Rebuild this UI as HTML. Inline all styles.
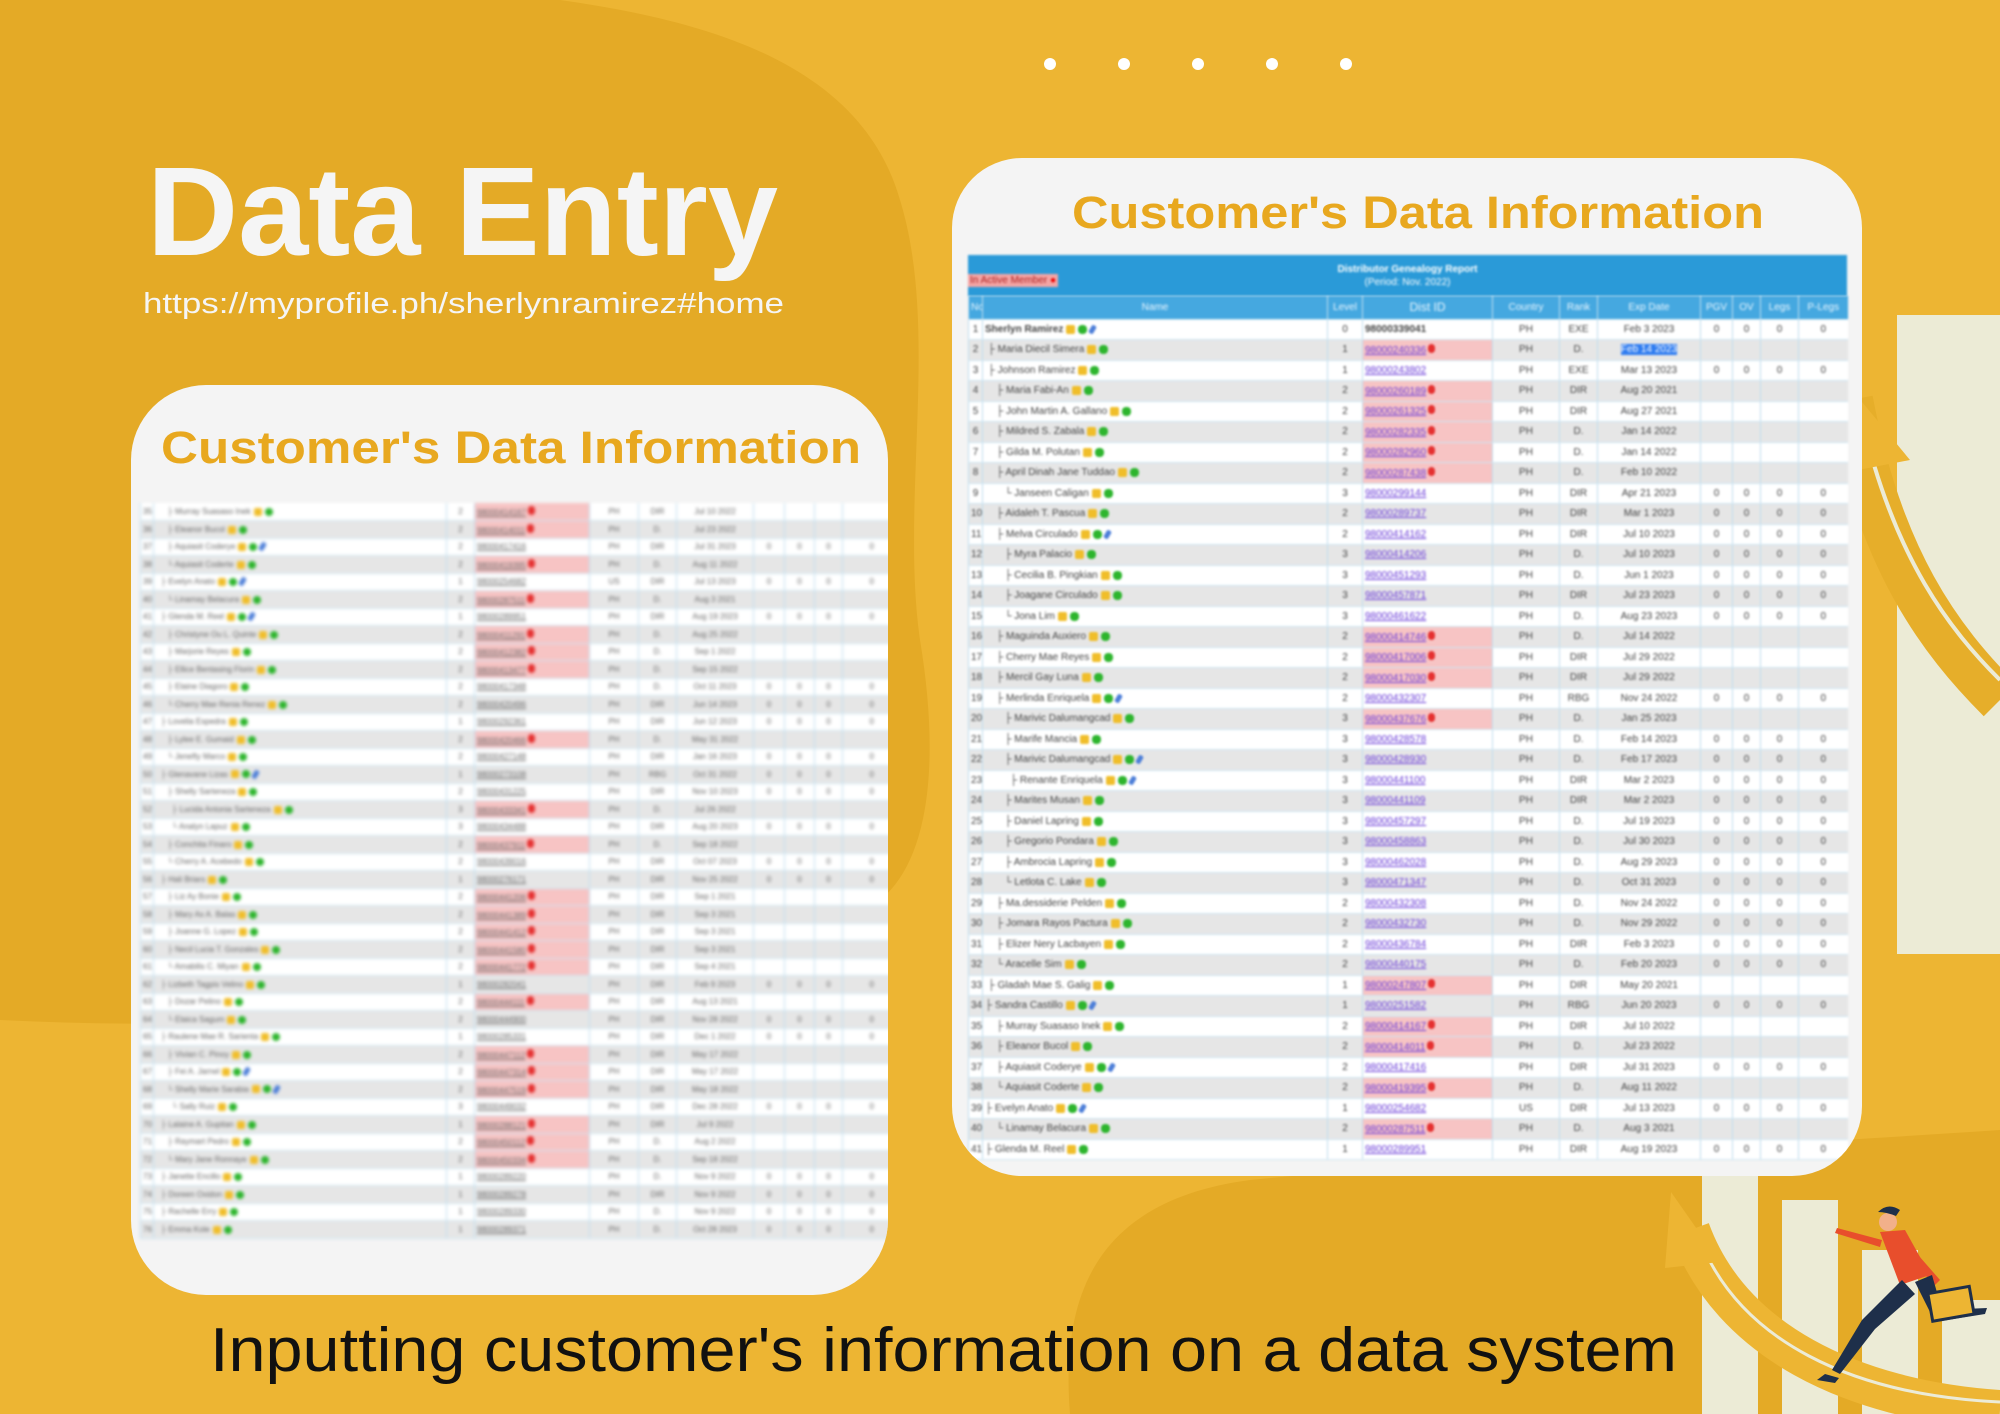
<!DOCTYPE html>
<html><head><meta charset="utf-8">
<style>
*{margin:0;padding:0;box-sizing:border-box}
html,body{width:2000px;height:1414px;overflow:hidden;background:#EDB533;font-family:"Liberation Sans",sans-serif}
#bg{position:absolute;left:0;top:0}
.card{position:absolute;background:#F4F4F4;overflow:hidden}
table{border-collapse:collapse;table-layout:fixed;position:absolute;font-size:10px;color:#444}
td{border-left:1px solid #BFDDEE;border-bottom:1px solid #CFE6F2;height:20.5px;white-space:nowrap;overflow:hidden;text-align:center;padding:0 2px}
tr:nth-child(even) td{background:#E6E6E6}
tr:nth-child(odd) td{background:#FFFFFF}
#rt tr:nth-child(even) td{background:#FFFFFF}
#rt tr:nth-child(odd) td{background:#E6E6E6}
td.nm{text-align:left}
td.p{text-align:left;color:#6A3BD8;text-decoration:underline}
tr td.pk,#rt tr td.pk{background:#F7C4C4}
td.pk::after{content:"";display:inline-block;width:7px;height:9px;border-radius:4px;background:#E53030;margin-left:2px}
i.y,i.g,i.c{display:inline-block;width:9px;height:9px;margin-left:3px;vertical-align:middle;border-radius:2px}
i.y{background:#F0BE2A}i.g{background:#2DB52D;border-radius:4px}i.c{background:#4C7ED8;width:5px;transform:rotate(30deg)}
.blur{filter:blur(1.1px)}
.blur2{filter:blur(1.6px)}
#lt td{height:17.5px;font-size:8px;color:#666}
#lt i.y,#lt i.g{width:8px;height:8px}
</style></head><body>
<svg id="bg" width="2000" height="1414">
<path d="M0 0 H560 C700 20 860 60 900 200 C940 330 900 500 920 640 C940 760 930 860 880 900 C820 950 700 960 600 980 C400 1020 200 1030 0 1020 Z" fill="#E4AA26"/>
<path d="M1070 1414 C1060 1290 1100 1200 1250 1180 C1450 1160 1700 1150 2000 1130 V1414 Z" fill="#E4AA26"/>
<circle cx="1050" cy="64" r="6" fill="#fff"/><circle cx="1124" cy="64" r="6" fill="#fff"/><circle cx="1198" cy="64" r="6" fill="#fff"/><circle cx="1272" cy="64" r="6" fill="#fff"/><circle cx="1346" cy="64" r="6" fill="#fff"/>
<rect x="1897" y="315" width="103" height="639" fill="#ECEBD6"/>
<path d="M1850 400 C1880 560 1940 640 2000 700" stroke="#E6AE2A" stroke-width="46" fill="none"/>
<path d="M1862 420 C1895 560 1950 630 2000 680" stroke="#ECEBD6" stroke-width="4" fill="none"/>
<polygon points="1848,385 1910,460 1858,470" fill="#EDB533"/>
<rect x="1702" y="1160" width="56" height="254" fill="#ECEBD6"/>
<rect x="1782" y="1200" width="56" height="214" fill="#ECEBD6"/>
<rect x="1862" y="1250" width="56" height="164" fill="#ECEBD6"/>
<rect x="1942" y="1300" width="58" height="114" fill="#ECEBD6"/>
<path d="M1690 1230 C1730 1340 1850 1400 2000 1410" stroke="#EDB533" stroke-width="40" fill="none"/>
<path d="M1700 1240 C1740 1340 1850 1395 2000 1402" stroke="#ECEBD6" stroke-width="3" fill="none"/>
<polygon points="1671,1192 1720,1262 1665,1268" fill="#EDB533"/>
<g>
<circle cx="1888" cy="1222" r="9" fill="#F2B08A"/>
<path d="M1878 1212 q10 -10 22 -2 l-4 6 q-10 -4 -18 -4z" fill="#1E2F4A"/>
<path d="M1880 1232 l25 -2 l25 45 l-30 10 z" fill="#E84E2C"/>
<path d="M1882 1240 l-45 -12 l-2 5 l45 14z" fill="#E84E2C"/>
<path d="M1905 1240 l35 40 l-5 5 l-35 -35z" fill="#E84E2C"/>
<path d="M1902 1280 l-40 40 l-30 50 l8 4 l35 -45 l40 -35z" fill="#1E2F4A"/>
<path d="M1915 1282 l20 40 l50 -8 l2 -6 l-45 2 l-10 -35z" fill="#1E2F4A"/>
<rect x="1930" y="1290" width="42" height="28" fill="#EDB533" stroke="#1E2F4A" stroke-width="3" transform="rotate(-10 1950 1304)"/>
<path d="M1825 1374 l14 4 l-4 5 l-18 -3z" fill="#1E2F4A"/>
</g>
<text x="147" y="255" font-family="Liberation Sans" font-weight="bold" font-size="126" fill="#F5F5F5" textLength="631" lengthAdjust="spacingAndGlyphs">Data Entry</text>
<text x="143" y="313" font-family="Liberation Sans" font-size="29" fill="#F5F5F5" textLength="641" lengthAdjust="spacingAndGlyphs">https://myprofile.ph/sherlynramirez#home</text>
<text x="210" y="1371" font-family="Liberation Sans" font-size="62" fill="#111" textLength="1467" lengthAdjust="spacingAndGlyphs">Inputting customer's information on a data system</text>
</svg>

<div class="card" style="left:131px;top:385px;width:757px;height:910px;border-radius:75px">
 <svg style="position:absolute;left:0;top:0" width="757" height="100"><text x="30" y="78" font-family="Liberation Sans" font-weight="bold" font-size="45" fill="#E8A81F" textLength="700" lengthAdjust="spacingAndGlyphs">Customer's Data Information</text></svg>
 <table id="lt" class="blur2" style="left:9px;top:118px;width:760px">
 <colgroup><col style="width:13px"><col style="width:293px"><col style="width:28px"><col style="width:115px"><col style="width:49px"><col style="width:38px"><col style="width:77px"><col style="width:31px"><col style="width:30px"><col style="width:28px"><col style="width:58px"></colgroup>
 <tr><td>35</td><td class="nm">&nbsp;&nbsp;&nbsp;&nbsp;&nbsp;├ Murray Suasaso Inek<i class="y"></i><i class="g"></i></td><td>2</td><td class="p pk">98000414167</td><td>PH</td><td>DIR</td><td>Jul 10 2022</td><td></td><td></td><td></td><td></td></tr>
 <tr><td>36</td><td class="nm">&nbsp;&nbsp;&nbsp;&nbsp;&nbsp;├ Eleanor Bucol<i class="y"></i><i class="g"></i></td><td>2</td><td class="p pk">98000414011</td><td>PH</td><td>D.</td><td>Jul 23 2022</td><td></td><td></td><td></td><td></td></tr>
 <tr><td>37</td><td class="nm">&nbsp;&nbsp;&nbsp;&nbsp;&nbsp;├ Aquiasit Coderye<i class="y"></i><i class="g"></i><i class="c"></i></td><td>2</td><td class="p">98000417416</td><td>PH</td><td>DIR</td><td>Jul 31 2023</td><td>0</td><td>0</td><td>0</td><td>0</td></tr>
 <tr><td>38</td><td class="nm">&nbsp;&nbsp;&nbsp;&nbsp;&nbsp;└ Aquiasit Coderte<i class="y"></i><i class="g"></i></td><td>2</td><td class="p pk">98000419395</td><td>PH</td><td>D.</td><td>Aug 11 2022</td><td></td><td></td><td></td><td></td></tr>
 <tr><td>39</td><td class="nm">&nbsp;&nbsp;├ Evelyn Anato<i class="y"></i><i class="g"></i><i class="c"></i></td><td>1</td><td class="p">98000254682</td><td>US</td><td>DIR</td><td>Jul 13 2023</td><td>0</td><td>0</td><td>0</td><td>0</td></tr>
 <tr><td>40</td><td class="nm">&nbsp;&nbsp;&nbsp;&nbsp;&nbsp;└ Linamay Belacura<i class="y"></i><i class="g"></i></td><td>2</td><td class="p pk">98000287511</td><td>PH</td><td>D.</td><td>Aug 3 2021</td><td></td><td></td><td></td><td></td></tr>
 <tr><td>41</td><td class="nm">&nbsp;&nbsp;├ Glenda M. Reel<i class="y"></i><i class="g"></i><i class="c"></i></td><td>1</td><td class="p">98000289951</td><td>PH</td><td>DIR</td><td>Aug 19 2023</td><td>0</td><td>0</td><td>0</td><td>0</td></tr>
 <tr><td>42</td><td class="nm">&nbsp;&nbsp;&nbsp;&nbsp;&nbsp;├ Christyne Ou L. Quinte<i class="y"></i><i class="g"></i></td><td>2</td><td class="p pk">98000411291</td><td>PH</td><td>D.</td><td>Aug 25 2022</td><td></td><td></td><td></td><td></td></tr>
 <tr><td>43</td><td class="nm">&nbsp;&nbsp;&nbsp;&nbsp;&nbsp;├ Marjorie Reyes<i class="y"></i><i class="g"></i></td><td>2</td><td class="p pk">98000412382</td><td>PH</td><td>D.</td><td>Sep 1 2022</td><td></td><td></td><td></td><td></td></tr>
 <tr><td>44</td><td class="nm">&nbsp;&nbsp;&nbsp;&nbsp;&nbsp;├ Ellice Bentasing Florin<i class="y"></i><i class="g"></i></td><td>2</td><td class="p pk">98000413477</td><td>PH</td><td>D.</td><td>Sep 15 2022</td><td></td><td></td><td></td><td></td></tr>
 <tr><td>45</td><td class="nm">&nbsp;&nbsp;&nbsp;&nbsp;&nbsp;├ Elaine Diagoro<i class="y"></i><i class="g"></i></td><td>2</td><td class="p">98000417348</td><td>PH</td><td>D.</td><td>Oct 11 2023</td><td>0</td><td>0</td><td>0</td><td>0</td></tr>
 <tr><td>46</td><td class="nm">&nbsp;&nbsp;&nbsp;&nbsp;&nbsp;└ Cherry Mae Renia Renez<i class="y"></i><i class="g"></i></td><td>2</td><td class="p">98000420496</td><td>PH</td><td>DIR</td><td>Jun 14 2023</td><td>0</td><td>0</td><td>0</td><td>0</td></tr>
 <tr><td>47</td><td class="nm">&nbsp;&nbsp;├ Lovelia Espedra<i class="y"></i><i class="g"></i></td><td>1</td><td class="p">98000292361</td><td>PH</td><td>DIR</td><td>Jun 12 2023</td><td>0</td><td>0</td><td>0</td><td>0</td></tr>
 <tr><td>48</td><td class="nm">&nbsp;&nbsp;&nbsp;&nbsp;&nbsp;├ Lylee E. Gumaid<i class="y"></i><i class="g"></i></td><td>2</td><td class="p pk">98000420466</td><td>PH</td><td>D.</td><td>May 31 2022</td><td></td><td></td><td></td><td></td></tr>
 <tr><td>49</td><td class="nm">&nbsp;&nbsp;&nbsp;&nbsp;&nbsp;└ Jenefty Marco<i class="y"></i><i class="g"></i></td><td>2</td><td class="p">98000427148</td><td>PH</td><td>DIR</td><td>Jan 16 2023</td><td>0</td><td>0</td><td>0</td><td>0</td></tr>
 <tr><td>50</td><td class="nm">&nbsp;&nbsp;├ Glenavane Lizas<i class="y"></i><i class="g"></i><i class="c"></i></td><td>1</td><td class="p">98000273108</td><td>PH</td><td>RBG</td><td>Oct 31 2022</td><td>0</td><td>0</td><td>0</td><td>0</td></tr>
 <tr><td>51</td><td class="nm">&nbsp;&nbsp;&nbsp;&nbsp;&nbsp;├ Shelly Sarteneza<i class="y"></i><i class="g"></i></td><td>2</td><td class="p">98000431225</td><td>PH</td><td>DIR</td><td>Nov 10 2023</td><td>0</td><td>0</td><td>0</td><td>0</td></tr>
 <tr><td>52</td><td class="nm">&nbsp;&nbsp;&nbsp;&nbsp;&nbsp;&nbsp;&nbsp;├ Lucida Antonia Sarteneza<i class="y"></i><i class="g"></i></td><td>3</td><td class="p pk">98000433341</td><td>PH</td><td>D.</td><td>Jul 26 2022</td><td></td><td></td><td></td><td></td></tr>
 <tr><td>53</td><td class="nm">&nbsp;&nbsp;&nbsp;&nbsp;&nbsp;&nbsp;&nbsp;└ Analyn Lapuz<i class="y"></i><i class="g"></i></td><td>3</td><td class="p">98000434488</td><td>PH</td><td>DIR</td><td>Aug 20 2023</td><td>0</td><td>0</td><td>0</td><td>0</td></tr>
 <tr><td>54</td><td class="nm">&nbsp;&nbsp;&nbsp;&nbsp;&nbsp;├ Conchita Finaro<i class="y"></i><i class="g"></i></td><td>2</td><td class="p pk">98000437911</td><td>PH</td><td>D.</td><td>Sep 18 2022</td><td></td><td></td><td></td><td></td></tr>
 <tr><td>55</td><td class="nm">&nbsp;&nbsp;&nbsp;&nbsp;&nbsp;└ Cherry A. Acebedo<i class="y"></i><i class="g"></i></td><td>2</td><td class="p">98000439016</td><td>PH</td><td>DIR</td><td>Oct 07 2023</td><td>0</td><td>0</td><td>0</td><td>0</td></tr>
 <tr><td>56</td><td class="nm">&nbsp;&nbsp;├ Hali Briars<i class="y"></i><i class="g"></i></td><td>1</td><td class="p">98000276171</td><td>PH</td><td>DIR</td><td>Nov 25 2022</td><td>0</td><td>0</td><td>0</td><td>0</td></tr>
 <tr><td>57</td><td class="nm">&nbsp;&nbsp;&nbsp;&nbsp;&nbsp;├ Liz Ay Bonie<i class="y"></i><i class="g"></i></td><td>2</td><td class="p pk">98000441206</td><td>PH</td><td>DIR</td><td>Sep 1 2021</td><td></td><td></td><td></td><td></td></tr>
 <tr><td>58</td><td class="nm">&nbsp;&nbsp;&nbsp;&nbsp;&nbsp;├ Mary Ax A. Balas<i class="y"></i><i class="g"></i></td><td>2</td><td class="p pk">98000441389</td><td>PH</td><td>DIR</td><td>Sep 3 2021</td><td></td><td></td><td></td><td></td></tr>
 <tr><td>59</td><td class="nm">&nbsp;&nbsp;&nbsp;&nbsp;&nbsp;├ Joanne G. Lopez<i class="y"></i><i class="g"></i></td><td>2</td><td class="p pk">98000441412</td><td>PH</td><td>DIR</td><td>Sep 3 2021</td><td></td><td></td><td></td><td></td></tr>
 <tr><td>60</td><td class="nm">&nbsp;&nbsp;&nbsp;&nbsp;&nbsp;├ Necil Lucia T. Gonzales<i class="y"></i><i class="g"></i></td><td>2</td><td class="p pk">98000441580</td><td>PH</td><td>DIR</td><td>Sep 3 2021</td><td></td><td></td><td></td><td></td></tr>
 <tr><td>61</td><td class="nm">&nbsp;&nbsp;&nbsp;&nbsp;&nbsp;└ Amabilis C. Miyan<i class="y"></i><i class="g"></i></td><td>2</td><td class="p pk">98000441772</td><td>PH</td><td>DIR</td><td>Sep 4 2021</td><td></td><td></td><td></td><td></td></tr>
 <tr><td>62</td><td class="nm">&nbsp;&nbsp;├ Lizbeth Tagpis Velino<i class="y"></i><i class="g"></i></td><td>1</td><td class="p">98000282041</td><td>PH</td><td>DIR</td><td>Feb 9 2023</td><td>0</td><td>0</td><td>0</td><td>0</td></tr>
 <tr><td>63</td><td class="nm">&nbsp;&nbsp;&nbsp;&nbsp;&nbsp;├ Dozar Pelino<i class="y"></i><i class="g"></i></td><td>2</td><td class="p pk">98000444111</td><td>PH</td><td>DIR</td><td>Aug 13 2021</td><td></td><td></td><td></td><td></td></tr>
 <tr><td>64</td><td class="nm">&nbsp;&nbsp;&nbsp;&nbsp;&nbsp;└ Elaica Sagum<i class="y"></i><i class="g"></i></td><td>2</td><td class="p">98000444900</td><td>PH</td><td>DIR</td><td>Nov 28 2022</td><td>0</td><td>0</td><td>0</td><td>0</td></tr>
 <tr><td>65</td><td class="nm">&nbsp;&nbsp;├ Raulene Mae R. Sarienta<i class="y"></i><i class="g"></i></td><td>1</td><td class="p">98000285331</td><td>PH</td><td>DIR</td><td>Dec 1 2022</td><td>0</td><td>0</td><td>0</td><td>0</td></tr>
 <tr><td>66</td><td class="nm">&nbsp;&nbsp;&nbsp;&nbsp;&nbsp;├ Vivian C. Pinoy<i class="y"></i><i class="g"></i></td><td>2</td><td class="p pk">98000447112</td><td>PH</td><td>DIR</td><td>May 17 2022</td><td></td><td></td><td></td><td></td></tr>
 <tr><td>67</td><td class="nm">&nbsp;&nbsp;&nbsp;&nbsp;&nbsp;├ Fei A. Jarnel<i class="y"></i><i class="g"></i><i class="c"></i></td><td>2</td><td class="p pk">98000447314</td><td>PH</td><td>DIR</td><td>May 17 2022</td><td></td><td></td><td></td><td></td></tr>
 <tr><td>68</td><td class="nm">&nbsp;&nbsp;&nbsp;&nbsp;&nbsp;└ Shelly Marie Sarabia<i class="y"></i><i class="g"></i><i class="c"></i></td><td>2</td><td class="p pk">98000447519</td><td>PH</td><td>DIR</td><td>May 18 2022</td><td></td><td></td><td></td><td></td></tr>
 <tr><td>69</td><td class="nm">&nbsp;&nbsp;&nbsp;&nbsp;&nbsp;&nbsp;&nbsp;└ Sally Ruiz<i class="y"></i><i class="g"></i></td><td>3</td><td class="p">98000449032</td><td>PH</td><td>DIR</td><td>Dec 28 2022</td><td>0</td><td>0</td><td>0</td><td>0</td></tr>
 <tr><td>70</td><td class="nm">&nbsp;&nbsp;├ Lalaine A. Gupitan<i class="y"></i><i class="g"></i></td><td>1</td><td class="p pk">98000288121</td><td>PH</td><td>DIR</td><td>Jul 9 2022</td><td></td><td></td><td></td><td></td></tr>
 <tr><td>71</td><td class="nm">&nbsp;&nbsp;&nbsp;&nbsp;&nbsp;├ Raymart Pedro<i class="y"></i><i class="g"></i></td><td>2</td><td class="p pk">98000450112</td><td>PH</td><td>D.</td><td>Aug 2 2022</td><td></td><td></td><td></td><td></td></tr>
 <tr><td>72</td><td class="nm">&nbsp;&nbsp;&nbsp;&nbsp;&nbsp;└ Mary Jane Ronnaye<i class="y"></i><i class="g"></i></td><td>2</td><td class="p pk">98000450334</td><td>PH</td><td>D.</td><td>Sep 18 2022</td><td></td><td></td><td></td><td></td></tr>
 <tr><td>73</td><td class="nm">&nbsp;&nbsp;├ Janette Encillo<i class="y"></i><i class="g"></i></td><td>1</td><td class="p">98000289220</td><td>PH</td><td>D.</td><td>Nov 9 2022</td><td>0</td><td>0</td><td>0</td><td>0</td></tr>
 <tr><td>74</td><td class="nm">&nbsp;&nbsp;├ Doreen Oxidon<i class="y"></i><i class="g"></i></td><td>1</td><td class="p">98000289278</td><td>PH</td><td>DIR</td><td>Nov 9 2022</td><td>0</td><td>0</td><td>0</td><td>0</td></tr>
 <tr><td>75</td><td class="nm">&nbsp;&nbsp;├ Rachelle Erry<i class="y"></i><i class="g"></i></td><td>1</td><td class="p">98000289330</td><td>PH</td><td>D.</td><td>Nov 9 2022</td><td>0</td><td>0</td><td>0</td><td>0</td></tr>
 <tr><td>76</td><td class="nm">&nbsp;&nbsp;├ Emma Kole<i class="y"></i><i class="g"></i></td><td>1</td><td class="p">98000289371</td><td>PH</td><td>D.</td><td>Oct 28 2023</td><td>0</td><td>0</td><td>0</td><td>0</td></tr>
 </table>
</div>

<div class="card" style="left:952px;top:158px;width:910px;height:1018px;border-radius:70px">
 <svg style="position:absolute;left:0;top:0" width="910" height="80"><text x="120" y="70" font-family="Liberation Sans" font-weight="bold" font-size="45" fill="#E8A81F" textLength="692" lengthAdjust="spacingAndGlyphs">Customer's Data Information</text></svg>
 <div class="blur" style="position:absolute;left:16px;top:97px;width:879px;height:41px;background:#2A9AD8;color:#fff;font-size:10px;text-align:center;font-weight:bold;line-height:13px;padding-top:8px">Distributor Genealogy Report<br><span style="font-weight:normal">(Period: Nov. 2022)</span>
  <span style="position:absolute;left:0;top:19px;background:#F3A5A5;color:#B02020;font-weight:normal;padding:0 2px">In Active Member <b style="color:#E00">●</b></span></div>
 <table id="rt" class="blur" style="left:16px;top:138px;width:879px">
 <colgroup><col style="width:14px"><col style="width:345px"><col style="width:35px"><col style="width:130px"><col style="width:67px"><col style="width:38px"><col style="width:103px"><col style="width:32px"><col style="width:28px"><col style="width:38px"><col style="width:49px"></colgroup>
 <tr style="height:23px"><td style="background:#45A8E0;color:#eaf6ff">No.</td><td style="background:#45A8E0;color:#eaf6ff">Name</td><td style="background:#45A8E0;color:#eaf6ff">Level</td><td style="background:#45A8E0;color:#eaf6ff;font-size:12px">Dist ID</td><td style="background:#45A8E0;color:#eaf6ff">Country</td><td style="background:#45A8E0;color:#eaf6ff">Rank</td><td style="background:#45A8E0;color:#eaf6ff">Exp Date</td><td style="background:#45A8E0;color:#eaf6ff">PGV</td><td style="background:#45A8E0;color:#eaf6ff">OV</td><td style="background:#45A8E0;color:#eaf6ff">Legs</td><td style="background:#45A8E0;color:#eaf6ff">P-Legs</td></tr>
 <tr><td>1</td><td class="nm"><b>Sherlyn Ramirez</b><i class="y"></i><i class="g"></i><i class="c"></i></td><td>0</td><td style="text-align:left;font-weight:bold">98000339041</td><td>PH</td><td>EXE</td><td>Feb 3 2023</td><td>0</td><td>0</td><td>0</td><td>0</td></tr>
 <tr><td>2</td><td class="nm">&nbsp;├ Maria Diecil Simera<i class="y"></i><i class="g"></i></td><td>1</td><td class="p pk">98000240336</td><td>PH</td><td>D.</td><td><span style="background:#2F7CF0;color:#fff">Feb 14 2023</span></td><td></td><td></td><td></td><td></td></tr>
 <tr><td>3</td><td class="nm">&nbsp;├ Johnson Ramirez<i class="y"></i><i class="g"></i></td><td>1</td><td class="p">98000243802</td><td>PH</td><td>EXE</td><td>Mar 13 2023</td><td>0</td><td>0</td><td>0</td><td>0</td></tr>
 <tr><td>4</td><td class="nm">&nbsp;&nbsp;&nbsp;&nbsp;├ Maria Fabi-An<i class="y"></i><i class="g"></i></td><td>2</td><td class="p pk">98000260189</td><td>PH</td><td>DIR</td><td>Aug 20 2021</td><td></td><td></td><td></td><td></td></tr>
 <tr><td>5</td><td class="nm">&nbsp;&nbsp;&nbsp;&nbsp;├ John Martin A. Gallano<i class="y"></i><i class="g"></i></td><td>2</td><td class="p pk">98000261325</td><td>PH</td><td>DIR</td><td>Aug 27 2021</td><td></td><td></td><td></td><td></td></tr>
 <tr><td>6</td><td class="nm">&nbsp;&nbsp;&nbsp;&nbsp;├ Mildred S. Zabala<i class="y"></i><i class="g"></i></td><td>2</td><td class="p pk">98000282335</td><td>PH</td><td>D.</td><td>Jan 14 2022</td><td></td><td></td><td></td><td></td></tr>
 <tr><td>7</td><td class="nm">&nbsp;&nbsp;&nbsp;&nbsp;├ Gilda M. Polutan<i class="y"></i><i class="g"></i></td><td>2</td><td class="p pk">98000282960</td><td>PH</td><td>D.</td><td>Jan 14 2022</td><td></td><td></td><td></td><td></td></tr>
 <tr><td>8</td><td class="nm">&nbsp;&nbsp;&nbsp;&nbsp;├ April Dinah Jane Tuddao<i class="y"></i><i class="g"></i></td><td>2</td><td class="p pk">98000287438</td><td>PH</td><td>D.</td><td>Feb 10 2022</td><td></td><td></td><td></td><td></td></tr>
 <tr><td>9</td><td class="nm">&nbsp;&nbsp;&nbsp;&nbsp;&nbsp;&nbsp;&nbsp;└ Janseen Caligan<i class="y"></i><i class="g"></i></td><td>3</td><td class="p">98000299144</td><td>PH</td><td>DIR</td><td>Apr 21 2023</td><td>0</td><td>0</td><td>0</td><td>0</td></tr>
 <tr><td>10</td><td class="nm">&nbsp;&nbsp;&nbsp;&nbsp;├ Aidaleh T. Pascua<i class="y"></i><i class="g"></i></td><td>2</td><td class="p">98000289737</td><td>PH</td><td>DIR</td><td>Mar 1 2023</td><td>0</td><td>0</td><td>0</td><td>0</td></tr>
 <tr><td>11</td><td class="nm">&nbsp;&nbsp;&nbsp;&nbsp;├ Melva Circulado<i class="y"></i><i class="g"></i><i class="c"></i></td><td>2</td><td class="p">98000414162</td><td>PH</td><td>DIR</td><td>Jul 10 2023</td><td>0</td><td>0</td><td>0</td><td>0</td></tr>
 <tr><td>12</td><td class="nm">&nbsp;&nbsp;&nbsp;&nbsp;&nbsp;&nbsp;&nbsp;├ Myra Palacio<i class="y"></i><i class="g"></i></td><td>3</td><td class="p">98000414206</td><td>PH</td><td>D.</td><td>Jul 10 2023</td><td>0</td><td>0</td><td>0</td><td>0</td></tr>
 <tr><td>13</td><td class="nm">&nbsp;&nbsp;&nbsp;&nbsp;&nbsp;&nbsp;&nbsp;├ Cecilia B. Pingkian<i class="y"></i><i class="g"></i></td><td>3</td><td class="p">98000451293</td><td>PH</td><td>D.</td><td>Jun 1 2023</td><td>0</td><td>0</td><td>0</td><td>0</td></tr>
 <tr><td>14</td><td class="nm">&nbsp;&nbsp;&nbsp;&nbsp;&nbsp;&nbsp;&nbsp;├ Joagane Circulado<i class="y"></i><i class="g"></i></td><td>3</td><td class="p">98000457871</td><td>PH</td><td>DIR</td><td>Jul 23 2023</td><td>0</td><td>0</td><td>0</td><td>0</td></tr>
 <tr><td>15</td><td class="nm">&nbsp;&nbsp;&nbsp;&nbsp;&nbsp;&nbsp;&nbsp;└ Jona Lim<i class="y"></i><i class="g"></i></td><td>3</td><td class="p">98000461622</td><td>PH</td><td>D.</td><td>Aug 23 2023</td><td>0</td><td>0</td><td>0</td><td>0</td></tr>
 <tr><td>16</td><td class="nm">&nbsp;&nbsp;&nbsp;&nbsp;├ Maguinda Auxiero<i class="y"></i><i class="g"></i></td><td>2</td><td class="p pk">98000414746</td><td>PH</td><td>D.</td><td>Jul 14 2022</td><td></td><td></td><td></td><td></td></tr>
 <tr><td>17</td><td class="nm">&nbsp;&nbsp;&nbsp;&nbsp;├ Cherry Mae Reyes<i class="y"></i><i class="g"></i></td><td>2</td><td class="p pk">98000417006</td><td>PH</td><td>DIR</td><td>Jul 29 2022</td><td></td><td></td><td></td><td></td></tr>
 <tr><td>18</td><td class="nm">&nbsp;&nbsp;&nbsp;&nbsp;├ Mercil Gay Luna<i class="y"></i><i class="g"></i></td><td>2</td><td class="p pk">98000417030</td><td>PH</td><td>DIR</td><td>Jul 29 2022</td><td></td><td></td><td></td><td></td></tr>
 <tr><td>19</td><td class="nm">&nbsp;&nbsp;&nbsp;&nbsp;├ Merlinda Enriquela<i class="y"></i><i class="g"></i><i class="c"></i></td><td>2</td><td class="p">98000432307</td><td>PH</td><td>RBG</td><td>Nov 24 2022</td><td>0</td><td>0</td><td>0</td><td>0</td></tr>
 <tr><td>20</td><td class="nm">&nbsp;&nbsp;&nbsp;&nbsp;&nbsp;&nbsp;&nbsp;├ Marivic Dalumangcad<i class="y"></i><i class="g"></i></td><td>3</td><td class="p pk">98000437676</td><td>PH</td><td>D.</td><td>Jan 25 2023</td><td></td><td></td><td></td><td></td></tr>
 <tr><td>21</td><td class="nm">&nbsp;&nbsp;&nbsp;&nbsp;&nbsp;&nbsp;&nbsp;├ Marife Mancia<i class="y"></i><i class="g"></i></td><td>3</td><td class="p">98000428578</td><td>PH</td><td>D.</td><td>Feb 14 2023</td><td>0</td><td>0</td><td>0</td><td>0</td></tr>
 <tr><td>22</td><td class="nm">&nbsp;&nbsp;&nbsp;&nbsp;&nbsp;&nbsp;&nbsp;├ Marivic Dalumangcad<i class="y"></i><i class="g"></i><i class="c"></i></td><td>3</td><td class="p">98000428930</td><td>PH</td><td>D.</td><td>Feb 17 2023</td><td>0</td><td>0</td><td>0</td><td>0</td></tr>
 <tr><td>23</td><td class="nm">&nbsp;&nbsp;&nbsp;&nbsp;&nbsp;&nbsp;&nbsp;&nbsp;&nbsp;├ Renante Enriquela<i class="y"></i><i class="g"></i><i class="c"></i></td><td>3</td><td class="p">98000441100</td><td>PH</td><td>DIR</td><td>Mar 2 2023</td><td>0</td><td>0</td><td>0</td><td>0</td></tr>
 <tr><td>24</td><td class="nm">&nbsp;&nbsp;&nbsp;&nbsp;&nbsp;&nbsp;&nbsp;├ Marites Musan<i class="y"></i><i class="g"></i></td><td>3</td><td class="p">98000441109</td><td>PH</td><td>DIR</td><td>Mar 2 2023</td><td>0</td><td>0</td><td>0</td><td>0</td></tr>
 <tr><td>25</td><td class="nm">&nbsp;&nbsp;&nbsp;&nbsp;&nbsp;&nbsp;&nbsp;├ Daniel Lapring<i class="y"></i><i class="g"></i></td><td>3</td><td class="p">98000457297</td><td>PH</td><td>D.</td><td>Jul 19 2023</td><td>0</td><td>0</td><td>0</td><td>0</td></tr>
 <tr><td>26</td><td class="nm">&nbsp;&nbsp;&nbsp;&nbsp;&nbsp;&nbsp;&nbsp;├ Gregorio Pondara<i class="y"></i><i class="g"></i></td><td>3</td><td class="p">98000458863</td><td>PH</td><td>D.</td><td>Jul 30 2023</td><td>0</td><td>0</td><td>0</td><td>0</td></tr>
 <tr><td>27</td><td class="nm">&nbsp;&nbsp;&nbsp;&nbsp;&nbsp;&nbsp;&nbsp;├ Ambrocia Lapring<i class="y"></i><i class="g"></i></td><td>3</td><td class="p">98000462028</td><td>PH</td><td>D.</td><td>Aug 29 2023</td><td>0</td><td>0</td><td>0</td><td>0</td></tr>
 <tr><td>28</td><td class="nm">&nbsp;&nbsp;&nbsp;&nbsp;&nbsp;&nbsp;&nbsp;└ Letlota C. Lake<i class="y"></i><i class="g"></i></td><td>3</td><td class="p">98000471347</td><td>PH</td><td>D.</td><td>Oct 31 2023</td><td>0</td><td>0</td><td>0</td><td>0</td></tr>
 <tr><td>29</td><td class="nm">&nbsp;&nbsp;&nbsp;&nbsp;├ Ma.dessiderie Pelden<i class="y"></i><i class="g"></i></td><td>2</td><td class="p">98000432308</td><td>PH</td><td>D.</td><td>Nov 24 2022</td><td>0</td><td>0</td><td>0</td><td>0</td></tr>
 <tr><td>30</td><td class="nm">&nbsp;&nbsp;&nbsp;&nbsp;├ Jomara Rayos Pactura<i class="y"></i><i class="g"></i></td><td>2</td><td class="p">98000432730</td><td>PH</td><td>D.</td><td>Nov 29 2022</td><td>0</td><td>0</td><td>0</td><td>0</td></tr>
 <tr><td>31</td><td class="nm">&nbsp;&nbsp;&nbsp;&nbsp;├ Elizer Nery Lacbayen<i class="y"></i><i class="g"></i></td><td>2</td><td class="p">98000436784</td><td>PH</td><td>DIR</td><td>Feb 3 2023</td><td>0</td><td>0</td><td>0</td><td>0</td></tr>
 <tr><td>32</td><td class="nm">&nbsp;&nbsp;&nbsp;&nbsp;└ Aracelle Sim<i class="y"></i><i class="g"></i></td><td>2</td><td class="p">98000440175</td><td>PH</td><td>D.</td><td>Feb 20 2023</td><td>0</td><td>0</td><td>0</td><td>0</td></tr>
 <tr><td>33</td><td class="nm">&nbsp;├ Gladah Mae S. Galig<i class="y"></i><i class="g"></i></td><td>1</td><td class="p pk">98000247807</td><td>PH</td><td>DIR</td><td>May 20 2021</td><td></td><td></td><td></td><td></td></tr>
 <tr><td>34</td><td class="nm">├ Sandra Castillo<i class="y"></i><i class="g"></i><i class="c"></i></td><td>1</td><td class="p">98000251582</td><td>PH</td><td>RBG</td><td>Jun 20 2023</td><td>0</td><td>0</td><td>0</td><td>0</td></tr>
 <tr><td>35</td><td class="nm">&nbsp;&nbsp;&nbsp;&nbsp;├ Murray Suasaso Inek<i class="y"></i><i class="g"></i></td><td>2</td><td class="p pk">98000414167</td><td>PH</td><td>DIR</td><td>Jul 10 2022</td><td></td><td></td><td></td><td></td></tr>
 <tr><td>36</td><td class="nm">&nbsp;&nbsp;&nbsp;&nbsp;├ Eleanor Bucol<i class="y"></i><i class="g"></i></td><td>2</td><td class="p pk">98000414011</td><td>PH</td><td>D.</td><td>Jul 23 2022</td><td></td><td></td><td></td><td></td></tr>
 <tr><td>37</td><td class="nm">&nbsp;&nbsp;&nbsp;&nbsp;├ Aquiasit Coderye<i class="y"></i><i class="g"></i><i class="c"></i></td><td>2</td><td class="p">98000417416</td><td>PH</td><td>DIR</td><td>Jul 31 2023</td><td>0</td><td>0</td><td>0</td><td>0</td></tr>
 <tr><td>38</td><td class="nm">&nbsp;&nbsp;&nbsp;&nbsp;└ Aquiasit Coderte<i class="y"></i><i class="g"></i></td><td>2</td><td class="p pk">98000419395</td><td>PH</td><td>D.</td><td>Aug 11 2022</td><td></td><td></td><td></td><td></td></tr>
 <tr><td>39</td><td class="nm">├ Evelyn Anato<i class="y"></i><i class="g"></i><i class="c"></i></td><td>1</td><td class="p">98000254682</td><td>US</td><td>DIR</td><td>Jul 13 2023</td><td>0</td><td>0</td><td>0</td><td>0</td></tr>
 <tr><td>40</td><td class="nm">&nbsp;&nbsp;&nbsp;&nbsp;└ Linamay Belacura<i class="y"></i><i class="g"></i></td><td>2</td><td class="p pk">98000287511</td><td>PH</td><td>D.</td><td>Aug 3 2021</td><td></td><td></td><td></td><td></td></tr>
 <tr><td>41</td><td class="nm">├ Glenda M. Reel<i class="y"></i><i class="g"></i></td><td>1</td><td class="p">98000289951</td><td>PH</td><td>DIR</td><td>Aug 19 2023</td><td>0</td><td>0</td><td>0</td><td>0</td></tr>
 </table>
</div>
</body></html>
